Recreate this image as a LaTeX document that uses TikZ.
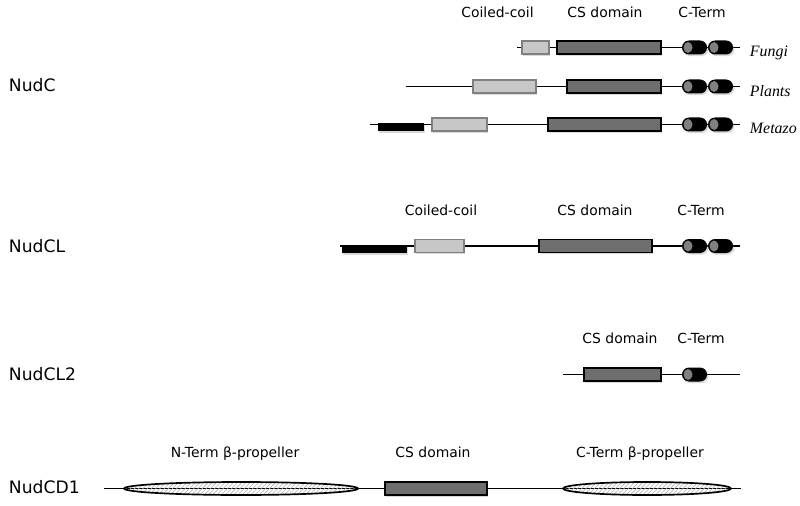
\documentclass[tikz,border=0pt]{standalone}
\usepackage{fontspec}
\setmainfont{DejaVu Sans}
\newfontfamily\orgfont{Liberation Serif}
\usetikzlibrary{positioning,shapes.geometric,shapes.misc,patterns,shadows}
\newcommand{\lightcol}{black!22}
\newcommand{\darkcol}{black!57}
\newcommand{\capcol}{black!50}

\tikzset{
  backbone/.style={line width=1.2pt},
  boxshadow/.style={drop shadow={shadow xshift=1pt, shadow yshift=-1.2pt, opacity=0.3}},
  ccbox/.style={draw=black!50, fill=\lightcol, line width=1.3pt, inner sep=0pt,
    minimum height=13*0.025cm, minimum width=#1*0.025cm, boxshadow},
  csbox/.style={draw=black, fill=\darkcol, line width=1.3pt, inner sep=0pt,
    minimum height=13*0.025cm, minimum width=#1*0.025cm, boxshadow},
  nbar/.style={fill=black, inner sep=0pt,
    minimum height=8*0.025cm, minimum width=#1*0.025cm, boxshadow},
  cterm/.style={rounded rectangle, fill=black, inner sep=0pt,
    minimum width=25*0.025cm, minimum height=14*0.025cm, boxshadow},
  ctcap/.style={ellipse, fill=\capcol, inner sep=0pt,
    minimum width=9*0.025cm, minimum height=11*0.025cm},
  prop/.style={ellipse, draw=black, line width=1.2pt, pattern=north east lines,
    pattern color=black!30, inner sep=0pt,
    minimum height=13*0.025cm, minimum width=#1*0.025cm},
  head/.style={font=\fontsize{9.9}{12}\selectfont, anchor=base},
  prot/.style={font=\fontsize{12.2}{14}\selectfont, anchor=base west},
  org/.style={font=\orgfont\itshape\fontsize{11.3}{13}\selectfont, anchor=base west},
}

\begin{document}
\begin{tikzpicture}[x=0.025cm, y=-0.025cm]

    \useasboundingbox (0, 0) rectangle (800, 505);

    % NudC
    \node[prot] (nudc) at (4, 92) {NudC};
    \node[head] (nudccc) at (497.5, 18) {Coiled-coil};
    \node[head] (nudccs) at (605, 18) {CS domain};
    \node[head] (nudcct) at (702, 18) {C-Term};

    \coordinate (fs) at (517, 47.5);
    \coordinate (fe) at (740, 47.5);
    \draw[backbone] (fs) -- (fe);
    \node[ccbox=27] (fcc) at (535.5, 47.5) {};
    \node[csbox=104] (fcs) at (609, 47.5) {};
    \node[cterm] (fct1) at (694.5, 47.5) {};
    \node[ctcap] (fcp1) at (688, 47.5) {};
    \node[cterm] (fct2) at (720.5, 47.5) {};
    \node[ctcap] (fcp2) at (714, 47.5) {};
    \node[org] (fungi) at (745, 57) {Fungi};

    \coordinate (ps) at (406, 86.5);
    \coordinate (pe) at (740, 86.5);
    \draw[backbone] (ps) -- (pe);
    \node[ccbox=63] (pcc) at (504.5, 86.5) {};
    \node[csbox=94] (pcs) at (614, 86.5) {};
    \node[cterm] (pct1) at (694.5, 86.5) {};
    \node[ctcap] (pcp1) at (688, 86.5) {};
    \node[cterm] (pct2) at (720.5, 86.5) {};
    \node[ctcap] (pcp2) at (714, 86.5) {};
    \node[org] (plants) at (745, 97) {Plants};

    \coordinate (ms) at (370, 124.5);
    \coordinate (me) at (740, 124.5);
    \draw[backbone] (ms) -- (me);
    \node[nbar=46] (mnb) at (401, 127.5) {};
    \node[ccbox=55] (mcc) at (459.5, 124.5) {};
    \node[csbox=113] (mcs) at (604.5, 124.5) {};
    \node[cterm] (mct1) at (694.5, 124.5) {};
    \node[ctcap] (mcp1) at (688, 124.5) {};
    \node[cterm] (mct2) at (720.5, 124.5) {};
    \node[ctcap] (mcp2) at (714, 124.5) {};
    \node[org] (metazo) at (745, 134) {Metazo};

    % NudCL
    \node[prot] (nudcl) at (4, 252) {NudCL};
    \node[head] (nudclcc) at (441, 215) {Coiled-coil};
    \node[head] (nudclcs) at (595, 215) {CS domain};
    \node[head] (nudclct) at (701, 215) {C-Term};

    \coordinate (ls) at (340, 246);
    \coordinate (le) at (740, 246);
    \draw[backbone] (ls) -- (le);
    \node[nbar=65] (lnb) at (374.5, 249) {};
    \node[ccbox=49] (lcc) at (439.5, 246) {};
    \node[csbox=113] (lcs) at (595.5, 246) {};
    \node[cterm] (lct1) at (694.5, 246) {};
    \node[ctcap] (lcp1) at (688, 246) {};
    \node[cterm] (lct2) at (720.5, 246) {};
    \node[ctcap] (lcp2) at (714, 246) {};

    % NudCL2
    \node[prot] (nudcl2) at (4, 380) {NudCL2};
    \node[head] (nudcl2cs) at (620, 343) {CS domain};
    \node[head] (nudcl2ct) at (701, 343) {C-Term};

    \coordinate (ks) at (563, 374.5);
    \coordinate (ke) at (740, 374.5);
    \draw[backbone] (ks) -- (ke);
    \node[csbox=77] (kcs) at (622.5, 374.5) {};
    \node[cterm] (kct1) at (694.5, 374.5) {};
    \node[ctcap] (kcp1) at (688, 374.5) {};

    % NudCD1
    \node[prot] (nudcd1) at (4, 493) {NudCD1};
    \node[head] (nudcd1np) at (235, 457) {N-Term β-propeller};
    \node[head] (nudcd1cs) at (433, 457) {CS domain};
    \node[head] (nudcd1cp) at (640, 457) {C-Term β-propeller};

    \coordinate (ds) at (104, 488.5);
    \coordinate (de) at (741, 488.5);
    \draw[backbone] (ds) -- (de);
    \node[prop=234] (dnp) at (241, 488.5) {};
    \node[csbox=102] (dcs) at (436, 488.5) {};
    \node[prop=168] (dcp) at (647, 488.5) {};

\end{tikzpicture}
\end{document}
